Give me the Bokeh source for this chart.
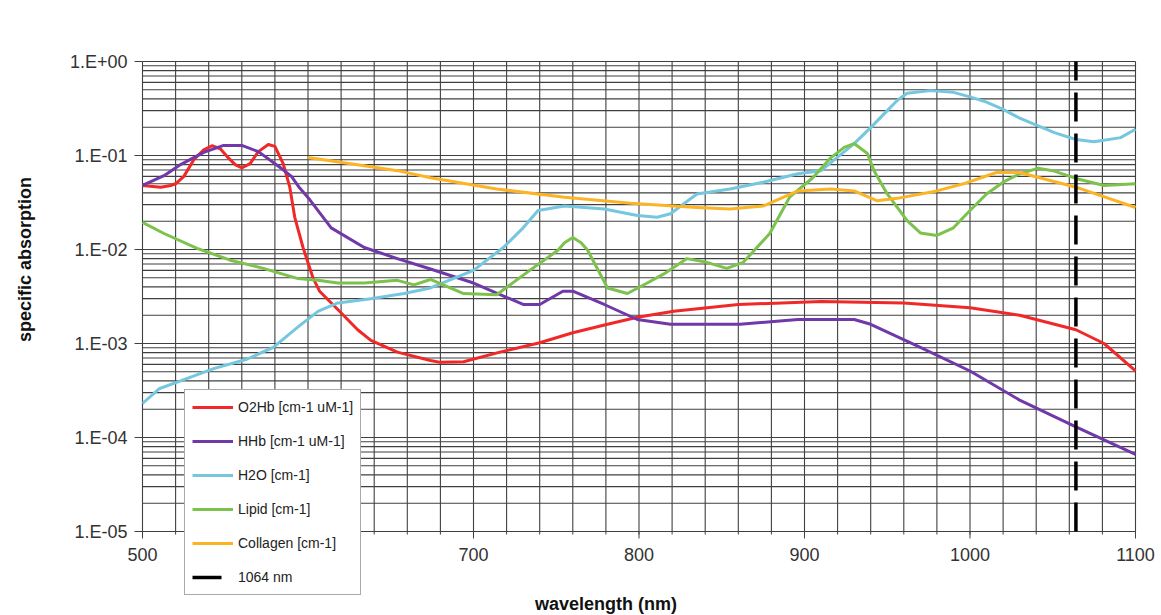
import math
from bokeh.plotting import figure
from bokeh.models import Legend, LegendItem
from bokeh.core.properties import value
from bokeh.embed import file_html
from bokeh.resources import INLINE

# ---- data ----
o2hb_wl = [500, 511, 517, 520, 525, 531, 537, 542, 547, 551, 556, 560, 565, 570, 576, 580, 585, 589, 592, 597, 603, 607, 618, 630, 638, 654, 674, 680, 694, 716, 740, 760, 781, 799, 821, 860, 910, 960, 1000, 1030, 1064, 1081, 1100]
o2hb = [0.048, 0.046, 0.048, 0.050, 0.060, 0.090, 0.115, 0.127, 0.118, 0.098, 0.080, 0.074, 0.082, 0.110, 0.131, 0.125, 0.082, 0.046, 0.022, 0.0105, 0.005, 0.0036, 0.0023, 0.0014, 0.00108, 0.00081, 0.00066, 0.00063, 0.00064, 0.00081, 0.00102, 0.0013, 0.0016, 0.0019, 0.0022, 0.0026, 0.0028, 0.0027, 0.0024, 0.0020, 0.0014, 0.0010, 0.00051]

hhb_wl = [500, 513, 523, 537, 549, 560, 570, 583, 590, 595, 601, 614, 634, 654, 674, 700, 730, 740, 754, 760, 779, 799, 819, 861, 896, 930, 940, 970, 1000, 1030, 1064, 1100]
hhb = [0.048, 0.061, 0.080, 0.108, 0.128, 0.128, 0.110, 0.075, 0.060, 0.045, 0.034, 0.017, 0.0105, 0.008, 0.0062, 0.0044, 0.0026, 0.0026, 0.0036, 0.0036, 0.0026, 0.0018, 0.0016, 0.0016, 0.0018, 0.0018, 0.0016, 0.00091, 0.00051, 0.00025, 0.00013, 0.000066]

h2o_wl = [500, 510, 523, 543, 563, 579, 594, 606, 618, 638, 658, 674, 700, 718, 730, 739, 755, 779, 799, 811, 819, 835, 855, 875, 896, 910, 930, 940, 950, 956, 962, 976, 990, 1000, 1010, 1020, 1030, 1051, 1064, 1075, 1091, 1100]
h2o = [0.00023, 0.00033, 0.0004, 0.00054, 0.00068, 0.00091, 0.0015, 0.0022, 0.0027, 0.0030, 0.0034, 0.0039, 0.0060, 0.0105, 0.017, 0.026, 0.029, 0.027, 0.023, 0.022, 0.024, 0.039, 0.044, 0.052, 0.064, 0.069, 0.134, 0.198, 0.30, 0.385, 0.46, 0.49, 0.47, 0.42, 0.37, 0.31, 0.25, 0.175, 0.148, 0.140, 0.155, 0.19]

lipid_wl = [500, 513, 533, 553, 573, 594, 606, 618, 634, 654, 664, 674, 694, 714, 734, 751, 755, 760, 765, 769, 781, 793, 805, 815, 829, 841, 853, 863, 879, 891, 905, 916, 924, 930, 938, 942, 950, 962, 970, 980, 990, 1000, 1010, 1020, 1030, 1041, 1050, 1064, 1081, 1100]
lipid = [0.0194, 0.0148, 0.0103, 0.0077, 0.0063, 0.0049, 0.0047, 0.0044, 0.0044, 0.0047, 0.0042, 0.0048, 0.0034, 0.0033, 0.0060, 0.0098, 0.0118, 0.0134, 0.0118, 0.0098, 0.0039, 0.0034, 0.0044, 0.0055, 0.0080, 0.0073, 0.0063, 0.0073, 0.0148, 0.036, 0.058, 0.095, 0.122, 0.134, 0.105, 0.069, 0.039, 0.0203, 0.015, 0.0141, 0.017, 0.026, 0.039, 0.052, 0.064, 0.073, 0.069, 0.057, 0.048, 0.050]

coll_wl = [600, 634, 654, 674, 714, 755, 795, 835, 855, 875, 896, 916, 930, 944, 956, 980, 996, 1016, 1030, 1064, 1100]
collagen = [0.095, 0.078, 0.069, 0.058, 0.044, 0.036, 0.031, 0.028, 0.027, 0.029, 0.042, 0.044, 0.042, 0.033, 0.035, 0.042, 0.050, 0.066, 0.066, 0.046, 0.028]

laser_wl = [1064, 1064]
laser_y = [1e-5, 1.0]

x_ticks = [500, 600, 700, 800, 900, 1000, 1100]
x_tick_labels = ["500", "600", "700", "800", "900", "1000", "1100"]
x_minor = list(range(500, 1101, 20))
y_ticks = [1e-5, 1e-4, 1e-3, 1e-2, 1e-1, 1.0]
y_labels = ["1.E-05", "1.E-04", "1.E-03", "1.E-02", "1.E-01", "1.E+00"]
y_minor = [m * 10.0 ** e for e in range(-5, 0) for m in range(2, 10)]

# ---- layout / style ----
FONT = "Liberation Sans"
GRID = "#404040"
W, H = 1155, 614
AX_L, AX_R, AX_T = 142, 1135, 61          # pixel positions of the axis box
PX_PER_DECADE = 94.0
x0, x1 = x_ticks[0], x_ticks[-1]
px_per_nm = (AX_R - AX_L) / (x1 - x0)
x_start = x0 - AX_L / px_per_nm
x_end = x1 + (W - AX_R) / px_per_nm
y_top, y_bot = y_ticks[-1], y_ticks[0]
y_high = y_top * 10 ** (AX_T / PX_PER_DECADE)
y_low = y_top * 10 ** (-(H - AX_T) / PX_PER_DECADE)

p = figure(width=W, height=H, x_range=(x_start, x_end), y_range=(y_low, y_high),
           y_axis_type="log", x_axis_location=None, y_axis_location=None,
           output_backend="svg", toolbar_location=None,
           min_border_left=0, min_border_right=0, min_border_top=0, min_border_bottom=0)
p.outline_line_color = None
p.xgrid.visible = False
p.ygrid.visible = False

# grid
all_y = y_ticks + y_minor
p.segment(x0=[x0] * len(all_y), y0=all_y, x1=[x1] * len(all_y), y1=all_y,
          line_color=GRID, line_width=1.1)
p.segment(x0=x_minor, y0=[y_bot] * len(x_minor), x1=x_minor, y1=[y_top] * len(x_minor),
          line_color=GRID, line_width=1.1)

# x ticks and labels
p.segment(x0=x_ticks, y0=[y_bot] * len(x_ticks), x1=x_ticks,
          y1=[y_bot * 10 ** (-7 / PX_PER_DECADE)] * len(x_ticks), line_color=GRID, line_width=1)
p.segment(x0=x_minor, y0=[y_bot] * len(x_minor), x1=x_minor,
          y1=[y_bot * 10 ** (-3 / PX_PER_DECADE)] * len(x_minor), line_color=GRID, line_width=1)
p.text(x=x_ticks, y=[y_bot] * len(x_ticks), text=x_tick_labels, y_offset=23,
       text_align="center", text_baseline="middle", text_font=value(FONT),
       text_font_size="18px", text_color="#333333")

# y ticks and labels
p.segment(x0=[x0] * len(y_ticks), y0=y_ticks, x1=[x0 - 8 / px_per_nm] * len(y_ticks), y1=y_ticks,
          line_color=GRID, line_width=1)
p.text(x=[x0] * len(y_ticks), y=y_ticks, text=y_labels, x_offset=-15,
       text_align="right", text_baseline="middle", text_font=value(FONT),
       text_font_size="18px", text_color="#333333")

# axis titles
p.text(x=[(x0 + x1) / 2], y=[y_bot], text=["wavelength (nm)"],
       x_offset=-33, y_offset=72, text_align="center", text_baseline="middle",
       text_font=value(FONT), text_font_size="18px", text_font_style="bold", text_color="#111111")
p.text(x=[x0], y=[y_top], text=["specific absorption"],
       x_offset=-118, y_offset=198, angle=math.pi / 2, text_align="center", text_baseline="middle",
       text_font=value(FONT), text_font_size="18px", text_font_style="bold", text_color="#111111")

LW = 3
r_o2 = p.line(o2hb_wl, o2hb, line_color="#f02828", line_width=LW, line_join="round")
r_hh = p.line(hhb_wl, hhb, line_color="#7038a8", line_width=LW, line_join="round")
r_h2o = p.line(h2o_wl, h2o, line_color="#74c7de", line_width=LW, line_join="round")
r_li = p.line(lipid_wl, lipid, line_color="#7cc24c", line_width=LW, line_join="round")
r_co = p.line(coll_wl, collagen, line_color="#fcb424", line_width=LW, line_join="round")
r_la = p.line(laser_wl, laser_y, line_color="black", line_width=3.5, line_dash="29 12")

legend = Legend(items=[
    LegendItem(label="O2Hb [cm-1 uM-1]", renderers=[r_o2]),
    LegendItem(label="HHb [cm-1 uM-1]", renderers=[r_hh]),
    LegendItem(label="H2O [cm-1]", renderers=[r_h2o]),
    LegendItem(label="Lipid [cm-1]", renderers=[r_li]),
    LegendItem(label="Collagen [cm-1]", renderers=[r_co]),
    LegendItem(label="1064 nm", renderers=[r_la]),
], location=(184, H - 595))
legend.label_text_font = FONT
legend.label_text_font_size = "14px"
legend.label_text_color = "#222222"
legend.glyph_width = 41
legend.glyph_height = 20
legend.label_height = 20
legend.spacing = 14
legend.padding = 7
legend.margin = 0
legend.label_standoff = 5
legend.border_line_color = "#555555"
legend.border_line_width = 1
legend.background_fill_alpha = 1.0
legend.background_fill_color = "white"
p.add_layout(legend, "center")

open("out.html", "w").write(file_html(p, INLINE))
